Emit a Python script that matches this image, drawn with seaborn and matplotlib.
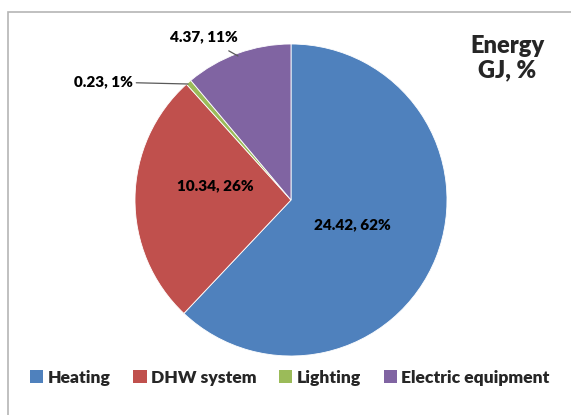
import matplotlib
matplotlib.use("Agg")
import matplotlib.pyplot as plt
from matplotlib.patches import Patch, Rectangle
import seaborn as sns

# energy use by end use, GJ
categories = ["Heating", "DHW system", "Lighting", "Electric equipment"]
energy_gj = [24.42, 10.34, 0.23, 4.37]
shares = [62, 26, 1, 11]
colors = ["#4F81BD", "#C0504D", "#9BBB59", "#8064A2"]

sns.set_theme(style="white")
plt.rcParams["font.family"] = ["Lato", "DejaVu Sans"]

W, H = 571, 415
fig = plt.figure(figsize=(W / 100, H / 100), dpi=100)

# chart area frame (left/top edges visible)
fig.patches.append(Rectangle((8 / W, -0.1), 1.2, (H - 12) / H + 0.1,
                             transform=fig.transFigure, fill=False,
                             edgecolor="#b5b5b5", linewidth=1.2))

cx, cy, r = 291, 200, 156
ax = fig.add_axes([(cx - r) / W, (H - cy - r) / H, 2 * r / W, 2 * r / H])
wedges, _ = ax.pie(energy_gj, colors=colors, startangle=90, counterclock=False,
                   radius=1, wedgeprops=dict(linewidth=0.6, edgecolor="white"))
ax.set_xlim(-1, 1)
ax.set_ylim(-1, 1)
ax.set_aspect("equal")
ax.axis("off")

labels = [f"{v:.2f}, {p}%" for v, p in zip(energy_gj, shares)]
txt = dict(fontsize=11, fontweight="heavy", color="black")


def px(x, y):
    return ((x - cx) / r, (cy - y) / r)


ax.text(*px(352, 225), labels[0], ha="center", va="center", **txt)
ax.text(*px(215, 186), labels[1], ha="center", va="center", **txt)
ax.annotate(labels[2], xy=px(188, 84), xytext=px(133, 82), ha="right", va="center",
            arrowprops=dict(arrowstyle="-", color="#595959", lw=0.9,
                            shrinkA=0, shrinkB=0), annotation_clip=False, **txt)
ax.annotate(labels[3], xy=px(238, 56), xytext=px(204, 37), ha="center", va="center",
            arrowprops=dict(arrowstyle="-", color="#595959", lw=0.9,
                            shrinkA=6, shrinkB=0), annotation_clip=False, **txt)

fig.text(507 / W, 1 - 58 / H, "Energy\nGJ, %", ha="center", va="center",
         fontsize=17, fontweight="heavy", linespacing=1.1)

handles = [Patch(facecolor=c, edgecolor="none") for c in colors]
fig.legend(handles, categories, loc="center", bbox_to_anchor=(290 / W, 1 - 378 / H),
           ncol=4, frameon=False, handlelength=0.75, handleheight=0.75,
           handletextpad=0.25, columnspacing=1.3,
           prop=dict(weight="heavy", size=12.6))

fig.savefig("out.png", dpi=100)
